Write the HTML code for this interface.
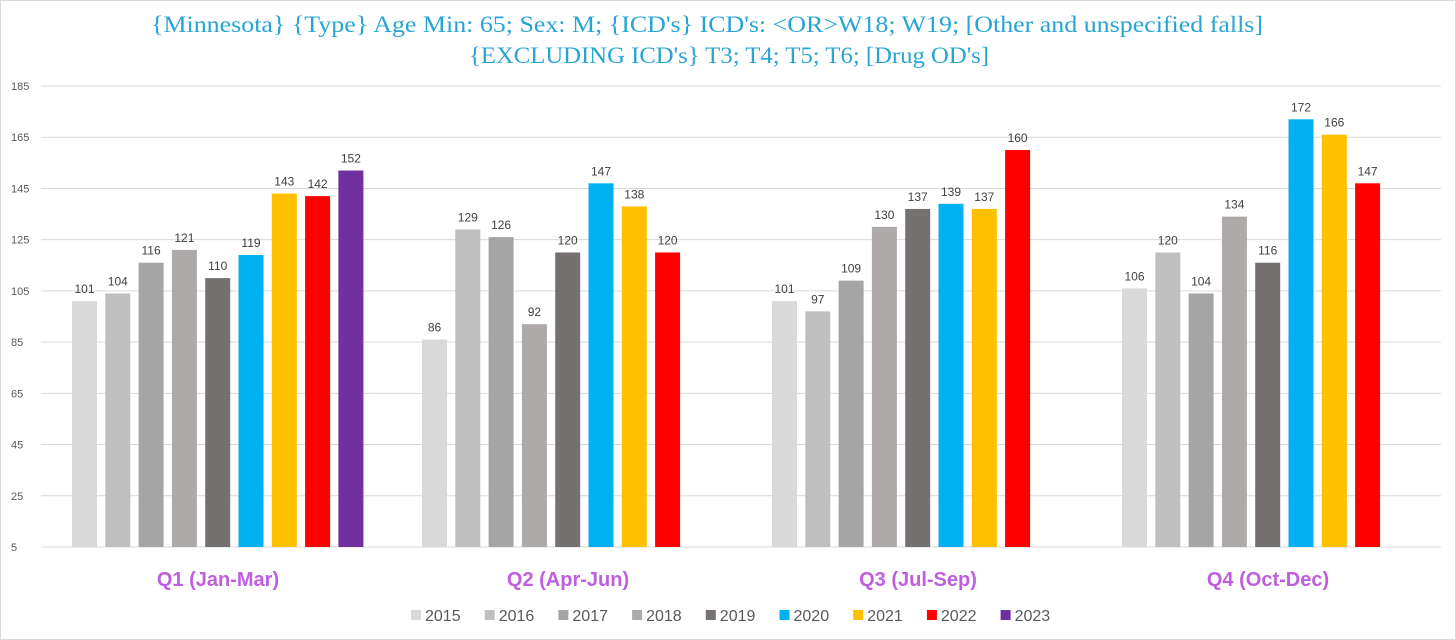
<!DOCTYPE html>
<html><head><meta charset="utf-8"><style>
body{margin:0;background:#fff;}
#wrap{position:relative;width:1456px;height:640px;overflow:hidden;background:#fff;border:1px solid #d9d9d9;box-sizing:border-box;}
svg text{font-family:"Liberation Sans",sans-serif;}
</style></head><body>
<div id="wrap">
<svg id="c" width="1456" height="640">
<text x="706" y="31" text-anchor="middle" font-size="23" fill="#26a5d5" textLength="1112" lengthAdjust="spacingAndGlyphs" style="font-family:'Liberation Serif',serif">{Minnesota} {Type} Age Min: 65; Sex: M; {ICD's} ICD's: &lt;OR&gt;W18; W19;  [Other and unspecified falls]</text>
<text x="728" y="62" text-anchor="middle" font-size="23" fill="#26a5d5" textLength="520" lengthAdjust="spacingAndGlyphs" style="font-family:'Liberation Serif',serif">{EXCLUDING ICD's}  T3; T4; T5; T6; [Drug OD's]</text>
</svg>
</div>
<script>
const categories=["Q1 (Jan-Mar)","Q2 (Apr-Jun)","Q3 (Jul-Sep)","Q4 (Oct-Dec)"];
const years=["2015","2016","2017","2018","2019","2020","2021","2022","2023"];
const colors=["#d9d9d9","#bfbfbf","#a5a5a5","#aeaaaa","#767171","#00b0f0","#ffc000","#ff0000","#7030a0"];
const q1=[101,104,116,121,110,119,143,142,152];
const q2=[86,129,126,92,120,147,138,120,null];
const q3=[101,97,109,130,137,139,137,160,null];
const q4=[106,120,104,134,116,172,166,147,null];
const ticks=[5,25,45,65,85,105,125,145,165,185];
const series=[q1,q2,q3,q4];
const svg=document.getElementById('c');
const NS='http://www.w3.org/2000/svg';
function y(v){return 546-(v-5)*(461/180);}
const x0=42,gw=350,slot=33.3,bw=25,off=29;
function mk(t,a){const e=document.createElementNS(NS,t);for(const k in a)e.setAttribute(k,a[k]);svg.appendChild(e);return e;}
ticks.forEach(t=>{
  const l=mk('line',{x1:40,x2:1440,y1:y(t),y2:y(t),stroke:'#d9d9d9','stroke-width':1});
  
  
  const tx=mk('text',{x:10,y:y(t)+4,'font-size':11,fill:'#595959'});
  tx.textContent=t;
  
  
});
series.forEach((s,gi)=>{
  s.forEach((v,i)=>{
    if(v==null)return;
    const bx=x0+gi*gw+off+i*slot;
    const r=mk('rect',{x:bx,y:y(v),width:bw,height:y(5)-y(v),fill:colors[i]});
    
    
    const t=mk('text',{x:bx+bw/2,y:y(v)-8,'font-size':12,fill:'#404040','text-anchor':'middle'});
    t.textContent=v;
    
    
  });
  const c=mk('text',{x:x0+gi*gw+175,y:585,'font-size':20,'font-weight':'bold',fill:'#c05ee0','text-anchor':'middle'});
  c.textContent=categories[gi];
  
  
});
years.forEach((yr,i)=>{
  const lx=410+i*73.7;
  const r=mk('rect',{x:lx,y:609,width:10,height:10,fill:colors[i]});
  
  
  const t=mk('text',{x:lx+14,y:620,'font-size':16,fill:'#595959'});
  t.textContent=yr;
  
  
});
</script>
</body></html>
